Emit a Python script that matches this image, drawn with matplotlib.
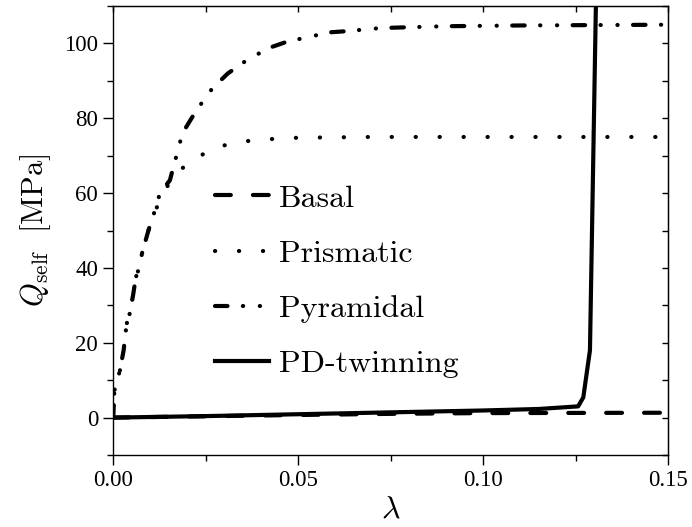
import matplotlib
matplotlib.use("Agg")
import matplotlib.pyplot as plt
from matplotlib.ticker import MultipleLocator

plt.rcParams['mathtext.fontset'] = 'cm'
plt.rcParams['font.family'] = ['Liberation Serif', 'DejaVu Serif']

# Data
lam_basal = [0.0, 0.025, 0.05, 0.075, 0.10, 0.125, 0.15]
q_basal = [0.0, 0.35, 0.7, 1.0, 1.2, 1.25, 1.3]

lam_prism = [0.0, 0.0003, 0.0018, 0.0028, 0.0036, 0.0045, 0.0054, 0.0061, 0.007, 0.0078,
             0.0095, 0.0117, 0.0135, 0.016, 0.0185, 0.0216, 0.028, 0.0343, 0.040, 0.05,
             0.07, 0.10, 0.15]
q_prism = [0.0, 7.2, 12.6, 18.0, 25.0, 28.0, 33.0, 37.5, 40.0, 44.0,
           50.0, 56.0, 60.0, 64.0, 66.5, 69.0, 72.3, 73.7, 74.3, 74.8,
           75.0, 75.0, 75.0]

lam_pyr = [0.0, 0.0003, 0.0018, 0.0028, 0.0036, 0.0045, 0.0054, 0.0061, 0.007, 0.0078,
           0.0095, 0.0117, 0.0126, 0.0153, 0.0187, 0.0224, 0.0268, 0.031, 0.0368, 0.0427,
           0.0468, 0.054, 0.059, 0.0635, 0.071, 0.0755, 0.09, 0.11, 0.13, 0.15]
q_pyr = [0.0, 7.2, 12.6, 18.0, 25.0, 28.0, 33.0, 37.5, 40.0, 44.0,
         50.0, 56.7, 60.0, 63.4, 76.0, 82.0, 88.0, 92.0, 96.0, 99.0,
         100.4, 102.0, 103.0, 103.3, 104.0, 104.2, 104.6, 104.8, 104.9, 105.0]

lam_twin = [0.0, 0.025, 0.05, 0.075, 0.10, 0.115, 0.1257, 0.1271, 0.1289, 0.1305, 0.131]
q_twin = [0.0, 0.4, 0.9, 1.4, 1.9, 2.3, 3.0, 5.4, 18.0, 110.0, 125.0]

fig = plt.figure(figsize=(6.92, 5.27), dpi=100)
ax = fig.add_axes([0.1637, 0.1366, 0.8016, 0.852])

lw = 3.0
ax.plot(lam_basal, q_basal, color='black', lw=lw, dashes=(3.8, 5.3),
        dash_capstyle='round', label='Basal')
ax.plot(lam_prism, q_prism, color='black', lw=lw, dashes=(0.05, 5.7),
        dash_capstyle='round', label='Prismatic')
ax.plot(lam_pyr, q_pyr, color='black', lw=lw, dashes=(3.0, 3.7, 0.05, 4.0, 0.05, 3.7),
        dash_capstyle='round', label='Pyramidal')
ax.plot(lam_twin, q_twin, color='black', lw=lw, solid_joinstyle='round', label='PD-twinning')

ax.set_xlim(0, 0.15)
ax.set_ylim(-10, 110)
ax.xaxis.set_major_locator(MultipleLocator(0.05))
ax.xaxis.set_minor_locator(MultipleLocator(0.025))
ax.yaxis.set_major_locator(MultipleLocator(20))
ax.yaxis.set_minor_locator(MultipleLocator(10))
ax.xaxis.set_major_formatter(matplotlib.ticker.FormatStrFormatter('%.2f'))

ax.tick_params(which='major', direction='out', length=7.5, width=1.0, labelsize=16.5)
ax.tick_params(which='minor', direction='out', length=4, width=1.0)
for s in ax.spines.values():
    s.set_linewidth(1.0)

# inward ticks on the top and right
top = ax.secondary_xaxis('top')
top.xaxis.set_major_locator(MultipleLocator(0.025))
top.tick_params(direction='in', length=4, width=1.0, labeltop=False)
right = ax.secondary_yaxis('right')
right.yaxis.set_major_locator(MultipleLocator(10))
right.tick_params(direction='in', length=4, width=1.0, labelright=False)

ax.set_xlabel(r'$\lambda$', fontsize=23, labelpad=3)
ax.set_ylabel(r'$Q_{\rm self}\ \ [\rm MPa]$', fontsize=22, labelpad=8)

ax.legend(loc='upper left', bbox_to_anchor=(0.183, 0.603), frameon=False,
          prop={'family': 'cmr10', 'size': 23}, handlelength=1.7,
          handletextpad=0.3, labelspacing=0.84, borderaxespad=0, borderpad=0)

fig.savefig('out.png', dpi=100)
